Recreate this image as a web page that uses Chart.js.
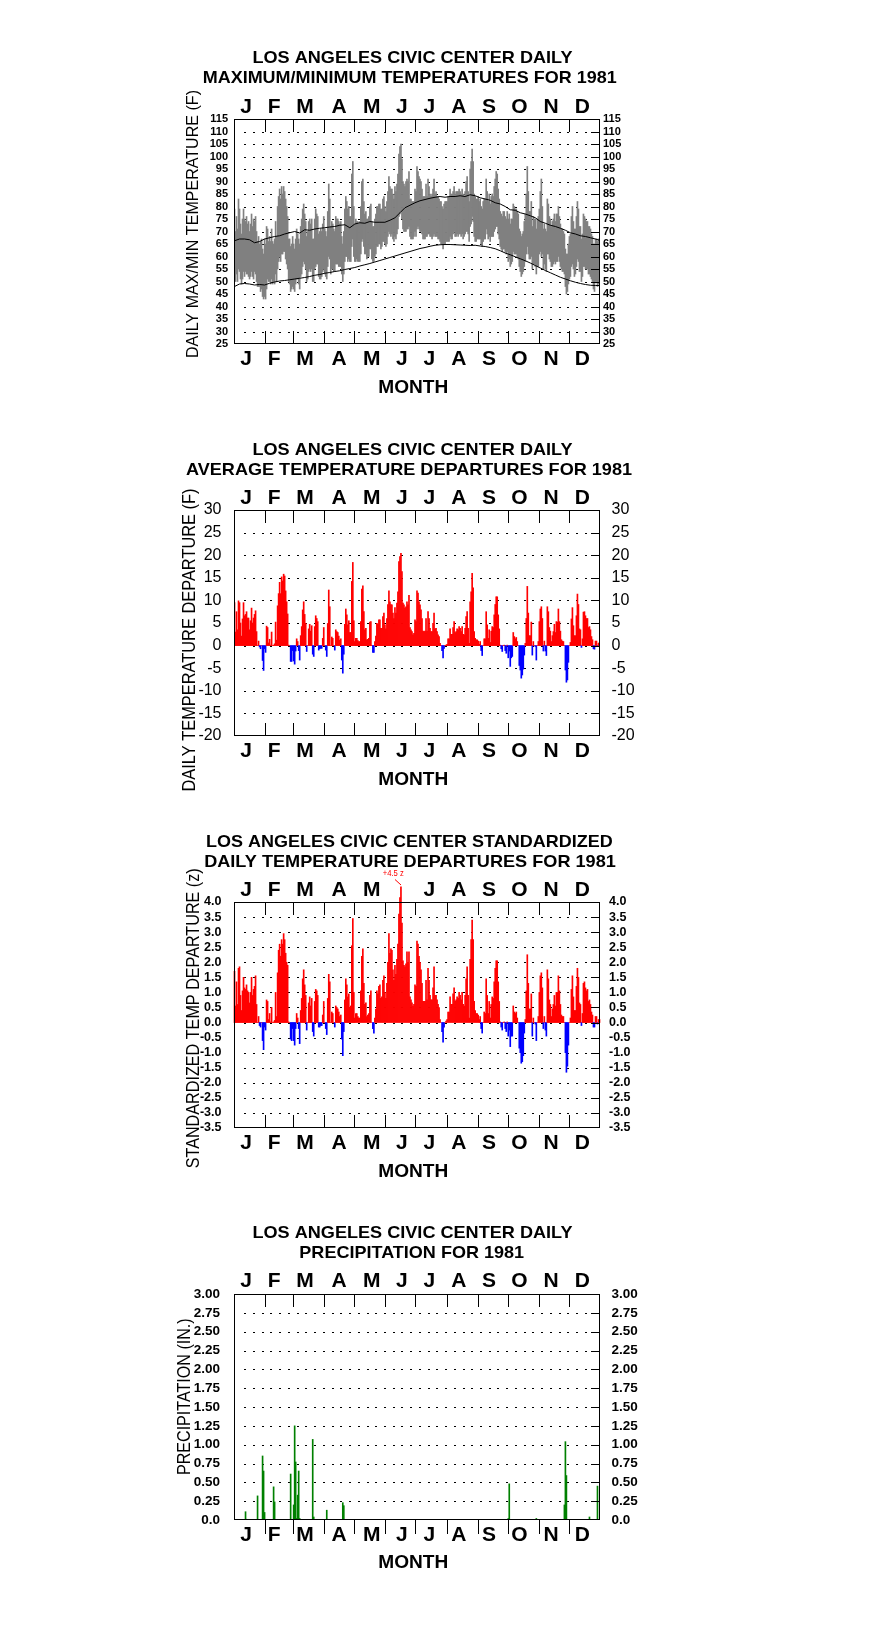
<!DOCTYPE html>
<html>
<head>
<meta charset="utf-8">
<title>Los Angeles Civic Center 1981</title>
<script src="https://cdn.jsdelivr.net/npm/chart.js@4.4.1/dist/chart.umd.min.js"></script>
<style>
  html, body { margin: 0; padding: 0; background: #fff; }
  body { position: relative; width: 876px; height: 1634px; overflow: hidden; }
  canvas { position: absolute; left: 0; }
</style>
</head>
<body>
<canvas id="maxmin" width="876" height="400" style="top:0px"></canvas>
<canvas id="depart" width="876" height="400" style="top:400px"></canvas>
<canvas id="zscore" width="876" height="390" style="top:800px"></canvas>
<canvas id="precip" width="876" height="444" style="top:1190px"></canvas>
<script>
// data (one value per day, Jan 1 .. Dec 31)
const months = ['J', 'F', 'M', 'A', 'M', 'J', 'J', 'A', 'S', 'O', 'N', 'D'];
const monthStarts = [1, 32, 60, 91, 121, 152, 182, 213, 244, 274, 305, 335];

const tmax = [
  79,70,76,71,83,79,73,69,75,79,75,74,76,73,74,70,73,77,72,75,74,76,70,66,68,65,66,67,63,61,67,
  65,72,71,66,68,66,71,66,65,67,74,68,80,84,87,83,88,85,88,86,83,80,76,67,67,64,65,68,
  65,63,67,71,69,67,65,72,75,79,81,77,74,68,70,74,75,73,75,67,67,75,79,77,76,69,70,71,70,73,76,
  71,70,68,78,89,83,72,74,73,71,70,76,75,75,74,73,74,68,65,70,79,84,82,79,80,76,76,93,98,80,
  73,75,74,74,73,74,80,90,91,82,77,78,75,75,76,80,81,74,72,72,75,77,80,80,81,81,79,79,83,84,80,
  78,82,86,92,88,87,87,85,83,88,86,89,93,101,104,105,99,90,89,88,90,91,90,94,83,83,82,82,82,87,
  86,96,94,92,91,90,87,84,84,84,89,84,91,88,85,84,85,87,91,85,86,84,84,83,82,82,80,79,81,82,82,
  82,84,84,87,85,85,86,88,85,86,86,86,87,86,85,87,85,84,86,90,92,86,82,95,98,103,98,85,84,83,83,
  84,82,83,80,79,82,83,83,91,86,82,85,81,84,85,84,88,91,94,93,87,83,78,77,76,78,78,76,75,78,
  75,77,73,75,75,81,80,79,79,78,77,71,70,68,69,70,74,77,85,96,86,78,78,82,72,76,75,75,71,75,76,
  79,86,91,80,71,73,71,70,83,81,76,75,72,74,75,77,74,77,77,80,76,73,71,71,70,69,63,61,61,65,
  68,69,76,80,74,71,71,76,82,79,72,72,67,69,77,76,75,74,74,72,72,71,69,68,65,65,67,67,66,67,67
];
const tmin = [
  54,50,53,50,55,54,51,49,51,54,52,54,53,53,52,51,52,54,52,51,54,53,50,48,48,48,46,47,44,43,44,
  43,47,51,50,50,49,51,49,50,49,53,50,55,58,60,58,61,61,62,62,59,57,55,50,49,46,47,48,
  47,46,49,51,51,49,47,52,53,56,58,57,55,50,51,54,55,54,55,50,50,55,56,57,57,52,51,51,52,54,55,
  53,52,51,56,60,59,53,55,55,54,54,57,57,57,56,56,56,53,50,53,58,60,60,58,59,58,58,64,67,60,
  58,58,59,58,58,58,61,66,67,64,61,61,59,60,60,63,63,59,58,58,60,61,64,64,65,65,63,64,66,66,65,
  64,65,68,70,69,68,69,67,66,68,67,69,71,76,77,78,75,71,70,70,70,71,71,72,68,67,67,67,68,70,
  68,71,72,71,70,70,69,67,67,67,68,68,69,69,68,68,67,68,69,68,68,68,67,67,66,65,65,63,65,65,66,
  66,66,66,68,67,67,69,70,68,68,69,68,69,69,68,69,67,68,69,70,70,69,66,72,73,76,74,68,66,66,67,
  67,67,67,65,64,66,67,67,71,69,67,68,66,68,68,68,70,71,72,72,69,67,64,63,62,63,63,62,61,62,
  58,59,56,57,58,62,61,61,61,60,59,56,54,52,53,54,56,58,61,64,61,59,59,60,55,57,57,56,53,56,56,
  61,62,60,61,55,57,55,54,61,61,59,58,56,56,57,58,57,58,58,60,58,56,55,54,54,53,48,45,46,49,
  51,52,56,57,55,52,53,56,59,58,54,54,50,52,56,56,55,55,55,53,53,52,51,50,47,46,50,50,48,49,49
];

// normal max / min lines, read every 5 days
const normDays = [1,6,11,16,21,26,31,36,41,46,51,56,61,66,71,76,81,86,91,96,101,106,111,116,121,126,131,136,
  141,146,151,156,161,166,171,176,181,186,191,196,201,206,211,216,221,226,231,236,241,246,251,256,261,266,
  271,276,281,286,291,296,301,306,311,316,321,326,331,336,341,346,351,356,361,365];
const normMax = [66.3,67,67,66.7,65.5,66,67,67.5,68,68.3, 69,69.5,70,69.4,70.7,70.5,71,71.3,71.5,71.8,
  72,72.5,72.7,71.5,73,73.5,73.3,74,73.7,73.7, 73.7,74.5,75.5,77.5,79.5,80.5,81.5,82.3,82.8,83.3,
  83.7,84,83.7,84,84,84.3,84,84.7,84.3,83.5, 83,82.5,81.5,81,80,78.7,78.5,77.5,77,76.3,
  75.5,74,73.3,72.5,72,71.3,70.5,69.5,69,68.3, 68,67.5,67,66.5];
const normMin = [48,49,49.2,49,48.6,48.8,48.6,49.3,49.8,50.2, 50.4,50.7,51,51.3,51.6,52,52.5,52.8,53.3,53.6,
  54,54.3,54.8,55.2,55.6,56.2,56.7,57.2,57.8,58.4, 59,59.6,60.2,60.8,61.4,62,62.6,63.2,63.6,64.1,
  64.5,64.7,64.8,64.8,64.7,64.6,64.5,64.4,64.5,64.2, 64,63.6,63.1,62.3,61.4,60.7,59.9,59.1,58.3,57.4,
  56.4,55.4,54.4,53.5,52.6,51.7,51,50.3,49.7,49.2, 48.8,48.5,48.4,48.4];

// daily average temperature departure (F)
const departure = [
  9.5,3,7.5,3.5,9.9,9.5,5,2.1,5.9,9.5,6.6,6.9,7.5,6.1,6.1,3.5,5.5,8.3,5,6.1,6.9,7.7,3.1,0,1,-0.3,-0.7,0,-3.3,-5.5,-0.7,
  -1.5,4.3,4,0.6,1.4,0.1,3,0,0.1,0.4,5.2,1.2,8.8,11.5,14,11.5,15.2,14.3,15.8,15.4,12.1,9.7,7,0.1,0,-3.5,-3.5,-1.1,
  -3.4,-4.1,-1.2,1.5,0.9,-1.1,-3.2,2.2,4.2,7.9,9.7,6.9,4.9,-1.3,0,3.7,4.7,3.2,4.4,-1.9,-2.4,4.2,6.6,6,5.3,-1,-0.7,-0.6,-0.6,1.6,4,
  0,-1,-2.4,4.9,12.3,8.6,0,1.9,1.6,0,-1,3.5,3.1,2.9,2.1,1.2,1.5,-3.2,-6.1,-1.9,4.7,8.1,6.8,4.6,5.5,2.9,2.9,14.2,18.4,5.5,
  0.9,1.6,1.6,1.1,0.9,0.9,5.3,12.5,13.2,7.5,3.5,3.8,1.3,1.4,1.6,5.2,5.3,0,-1.5,-1.5,0.9,2.1,4.9,4.7,5.7,5.7,3.8,3.8,6.4,7.2,4.6,
  3.7,6,9.1,12.1,9.7,9.1,9,7.2,6,8.4,7.2,9.4,11.9,18.6,19.7,20.4,16.4,9.4,9,8.3,8.6,9.7,9,11.1,4,3.5,3.1,2.4,2.7,5.7,
  5.3,12.1,11.6,9.7,9,7.9,6,3.2,3.1,3.2,6,3.2,7.5,6,3.8,3.1,3.1,4.9,7.2,3.7,3.8,3.1,2.4,2,0.5,0,-1.1,-2.7,-0.6,0,0.1,
  0.3,1.5,1.5,3.7,2.5,2.5,4,5.3,2.9,3.1,3.7,3.5,4.2,3.8,3.1,4.2,2.5,2.4,3.8,6.4,7.5,3.8,0.5,9.7,11.9,16,12.8,3.1,1.6,1.3,1.3,
  1,0.3,0.9,-1.1,-2.2,0,1.5,1.5,7.5,4.6,1.6,3.5,0.7,3.2,4.2,4,6.8,9.1,10.8,10.8,6.8,3.7,0.1,-0.7,-1.3,0,0.1,-1.1,-1.7,0.1,
  -2.7,-1.2,-4.6,-2.7,-2.4,2.9,2,1.5,1.8,0.9,0,-4.4,-5.4,-7.2,-6.5,-5.2,-2.1,0.5,6,13.1,7.2,2.2,2.2,5.2,-2.1,0.9,0,-0.2,-3.2,0,0.9,
  5.3,8.1,8.6,6,-1.2,1,-1.2,-2.2,8.6,7.5,4,3.2,0.9,2.2,3.1,4.7,2.9,5.3,5.2,8.1,5.3,3.2,1.3,1,0.9,0,-5.4,-8.1,-7.6,-3.7,
  0,0.7,5.9,8.4,4.4,2.2,2.2,6.6,11.4,9.1,3.7,3.5,-0.4,1.5,7.4,7.5,6.6,6,6,4,4.2,3.5,2,1.3,-0.7,-0.8,1,1,-0.2,0.5,0.7
];

// standardized departure (z)
const zscore = [
  1.7,0.55,1.35,0.6,1.8,1.85,0.9,0.4,1.05,1.5,1.15,1.1,1.25,1.05,1.0,0.65,1.0,1.5,0.9,1.1,1.2,1.55,0.6,0,0.2,-0.1,-0.15,0,-0.6,-0.9,-0.15,
  -0.25,0.75,0.7,0.1,0.3,0.02,0.5,0,0.02,0.07,1.0,0.2,1.65,2.4,2.6,2.2,2.75,2.6,2.95,2.75,2.3,2.0,1.9,0.02,0,-0.55,-0.6,-0.2,
  -0.6,-0.75,-0.2,0.3,0.15,-0.2,-0.7,0.4,0.8,1.45,1.75,1.25,0.9,-0.25,0,0.65,0.85,0.55,0.8,-0.3,-0.45,0.7,1.1,1.05,0.9,-0.15,-0.15,-0.1,-0.1,0.25,0.7,
  0,-0.2,-0.4,0.8,1.6,1.35,0,0.35,0.3,0,-0.15,0.55,0.5,0.45,0.35,0.2,0.25,-0.55,-1.1,-0.3,0.75,1.45,1.25,0.85,0.95,0.5,0.55,2.55,3.45,1.0,
  0.15,0.3,0.3,0.2,0.15,0.15,1.05,2.2,2.45,1.3,0.6,0.65,0.2,0.25,0.3,0.9,1.05,0,-0.2,-0.35,0.15,0.45,1.05,0.95,1.2,1.25,0.8,0.85,1.4,1.55,1.0,
  0.8,1.3,2.0,2.95,2.3,2.45,2.4,1.75,1.4,1.9,1.6,2.1,2.6,3.6,4.15,4.5,3.3,2.05,1.9,1.85,1.95,2.35,2.0,2.35,0.85,0.75,0.65,0.55,0.6,1.25,
  1.2,2.7,2.6,2.2,2.0,1.75,1.3,0.7,0.7,0.7,1.4,0.75,1.8,1.4,0.9,0.75,0.75,1.15,1.85,0.9,0.9,0.75,0.6,0.5,0.1,0,-0.3,-0.65,-0.15,0,0.05,
  0.1,0.35,0.35,0.85,0.6,0.6,0.95,1.15,0.7,0.75,0.85,0.8,1.0,0.9,0.75,1.0,0.6,0.55,0.9,1.45,1.85,0.9,0.15,2.1,2.75,3.4,2.75,0.7,0.4,0.3,0.3,
  0.25,0.1,0.2,-0.2,-0.35,0,0.35,0.3,1.45,0.9,0.3,0.7,0.15,0.6,0.85,0.8,1.35,1.8,2.05,2.05,1.35,0.7,0.02,-0.15,-0.25,0,0.02,-0.2,-0.3,0.02,
  -0.45,-0.25,-0.8,-0.45,-0.45,0.55,0.35,0.3,0.35,0.15,0,-0.85,-1.0,-1.35,-1.3,-1.1,-0.35,0.1,1.05,2.25,1.3,0.45,0.45,0.95,-0.45,0.15,0,-0.05,-0.6,0,0.2,
  1.0,1.55,1.65,1.15,-0.2,0.2,-0.25,-0.45,1.75,1.45,0.75,0.6,0.2,0.45,0.6,0.9,0.55,1.0,1.0,1.55,1.05,0.6,0.25,0.2,0.2,0,-1.0,-1.65,-1.45,-0.75,
  0,0.15,1.1,1.55,0.85,0.4,0.4,1.2,1.8,1.5,0.65,0.6,-0.1,0.3,1.3,1.35,1.15,1.05,1.1,0.7,0.75,0.6,0.35,0.25,-0.15,-0.15,0.2,0.2,-0.05,0.1,0.1
];

// days with measurable rain, and the amounts (in.)
const precipDays = [12,13,24,29,30,31,40,41,57,60,61,62,63,64,65,66,79,80,93,109,110,274,275,302,330,331,332,355,363];
const precipVals = [0.11,0.01,0.32,0.85,0.65,0.1,0.44,0.24,0.61,0.2,1.25,0.77,0.02,0.33,0.65,0.02,1.07,0.04,0.13,0.23,0.19,0.02,0.48,0.02,0.2,1.04,0.59,0.04,0.45];

const days = tmax.map((v, i) => i + 1);

const FONT = '"Liberation Sans", Arial, Helvetica, sans-serif';
const RED = '#ff0000', BLUE = '#0000ff', GRAY = '#808080', GREEN = '#008000';
// small horizontal nudges so the month letters sit where the original put them
const LETTER_NUDGE = [-1.5, -3, -1.7, 1.7, 3.8, 3.3, 0.3, -1.3, -1.6, -1.9, -0.8, -0.2];

// layout of each panel (canvas coordinates)
const layoutFor = {
  maxmin: {
    H: 400, top: 119, bottom: 344, min: 25, max: 115, step: 5,
    titles: [['LOS ANGELES CIVIC CENTER DAILY', 412.5, 63.3, 320], ['MAXIMUM/MINIMUM TEMPERATURES FOR 1981', 409.7, 82.7, 414]],
    yTitle: ['DAILY MAX/MIN TEMPERATURE (F)', 198, 224, 268, 17],
    monthTop: 112.7, monthBottom: 365, monthLabel: 392.7
  },
  depart: {
    H: 400, top: 110, bottom: 336, min: -20, max: 30, step: 5,
    titles: [['LOS ANGELES CIVIC CENTER DAILY', 412.5, 55, 320], ['AVERAGE TEMPERATURE DEPARTURES FOR 1981', 409, 75, 446]],
    yTitle: ['DAILY TEMPERATURE DEPARTURE (F)', 195, 240, 303, 18],
    monthTop: 104, monthBottom: 357.3, monthLabel: 385
  },
  zscore: {
    H: 390, top: 102, bottom: 328, min: -3.5, max: 4, step: 0.5,
    titles: [['LOS ANGELES CIVIC CENTER STANDARDIZED', 409.3, 47.3, 406.7], ['DAILY TEMPERATURE DEPARTURES FOR 1981', 410, 67.3, 411.7]],
    yTitle: ['STANDARDIZED TEMP DEPARTURE (z)', 198.5, 218.3, 300, 18],
    monthTop: 96, monthBottom: 349.3, monthLabel: 376.7, skipTop: 5
  },
  precip: {
    H: 444, top: 104, bottom: 330, min: 0, max: 3, step: 0.25,
    titles: [['LOS ANGELES CIVIC CENTER DAILY', 412.5, 48.3, 320], ['PRECIPITATION FOR 1981', 411.7, 67.7, 224.7]],
    yTitle: ['PRECIPITATION (IN.)', 190, 206.7, 156.7, 18],
    monthTop: 97.3, monthBottom: 350.7, monthLabel: 377.7, ticksBelow: true
  }
};

function fitText(ctx, text, cx, base, width, font, rotate) {
  ctx.save();
  ctx.font = font;
  const w = ctx.measureText(text).width;
  ctx.translate(cx, base);
  if (rotate) ctx.rotate(-Math.PI / 2);
  ctx.scale(width / w, 1);
  ctx.textAlign = 'center';
  ctx.textBaseline = 'alphabetic';
  ctx.fillText(text, 0, 0);
  ctx.restore();
}

const decor = {
  id: 'decor',
  beforeDatasetsDraw(chart) {
    const o = layoutFor[chart.canvas.id];
    const {ctx, chartArea: a} = chart;
    const y = chart.scales.y;
    const n = Math.round((o.max - o.min) / o.step);
    ctx.save();
    ctx.fillStyle = '#000';
    for (let i = 1; i < n; i++) {
      const py = Math.round(y.getPixelForValue(o.min + i * o.step));
      for (let px = a.left + 10.3; px < a.right - 7; px += 8.73) {
        ctx.fillRect(Math.round(px), py, 2, 1);
      }
    }
    ctx.restore();
  },
  afterDatasetsDraw(chart) {
    const o = layoutFor[chart.canvas.id];
    const {ctx, chartArea: a} = chart;
    const x = chart.scales.x, y = chart.scales.y;
    const n = Math.round((o.max - o.min) / o.step);
    ctx.save();
    ctx.fillStyle = '#000';
    ctx.strokeStyle = '#000';
    ctx.lineWidth = 1;
    ctx.strokeRect(a.left + 0.5, a.top + 0.5, a.right - a.left - 1, a.bottom - a.top - 1);

    // short ticks inside the right edge
    for (let i = 1; i < n; i++) {
      const py = Math.round(y.getPixelForValue(o.min + i * o.step));
      ctx.fillRect(a.right - 9, py, 9, 1);
    }

    // month boundaries
    monthStarts.slice(1).forEach(d => {
      const px = Math.round(x.getPixelForValue(d - 0.5));
      ctx.fillRect(px, a.top, 1, 13);
      if (o.ticksBelow) ctx.fillRect(px, a.bottom, 1, 14);
      else ctx.fillRect(px, a.bottom - 13, 1, 13);
    });

    // month letters, top and bottom
    ctx.font = 'bold 21px ' + FONT;
    ctx.textAlign = 'center';
    ctx.textBaseline = 'alphabetic';
    months.forEach((m, i) => {
      const end = i < 11 ? monthStarts[i + 1] : 366;
      const px = x.getPixelForValue((monthStarts[i] + end) / 2 - 0.5) - 2 + LETTER_NUDGE[i];
      if (o.skipTop !== i) ctx.fillText(m, px, o.monthTop);
      ctx.fillText(m, px, o.monthBottom);
    });

    o.titles.forEach(t => fitText(ctx, t[0], t[1], t[2], t[3], 'bold 17px ' + FONT));
    fitText(ctx, 'MONTH', 413.3, o.monthLabel, 70, 'bold 19px ' + FONT);
    const yt = o.yTitle;
    fitText(ctx, yt[0], yt[1], yt[2], yt[3], yt[4] + 'px ' + FONT, true);

    if (chart.canvas.id === 'zscore') {
      ctx.fillStyle = RED;
      ctx.strokeStyle = RED;
      fitText(ctx, '+4.5 z', 393.3, 76, 21, '9px ' + FONT);
      ctx.beginPath();
      ctx.moveTo(395, 79.5);
      ctx.lineTo(401, 85);
      ctx.stroke();
    }
    ctx.restore();
  }
};

function makePanel(id, datasets, tickFont, padL, padR, fmt) {
  const o = layoutFor[id];
  const tickCfg = pad => ({
    stepSize: o.step, autoSkip: false, color: '#000', padding: pad, font: tickFont, callback: fmt
  });
  return new Chart(document.getElementById(id), {
    type: 'bar',
    data: {datasets: datasets},
    options: {
      responsive: false,
      animation: false,
      devicePixelRatio: 1,
      events: [],
      layout: {padding: {top: o.top, bottom: o.H - o.bottom, left: 0, right: 0}},
      plugins: {legend: {display: false}, tooltip: {enabled: false}},
      scales: {
        x: {type: 'linear', min: 0.5, max: 365.5, offset: false, grid: {offset: false}, display: false},
        y: {
          type: 'linear', position: 'left', min: o.min, max: o.max,
          grid: {display: false, drawTicks: false}, border: {display: false},
          ticks: tickCfg(padL),
          afterFit: s => { s.width = 234; }
        },
        y2: {
          type: 'linear', position: 'right', min: o.min, max: o.max,
          grid: {display: false, drawTicks: false}, border: {display: false},
          ticks: tickCfg(padR),
          afterFit: s => { s.width = 276; }
        }
      }
    },
    plugins: [decor]
  });
}

const barBase = {type: 'bar', barPercentage: 1, categoryPercentage: 1, borderWidth: 0, order: 1};

// 1. max / min temperatures
makePanel('maxmin', [
  {type: 'line', data: normDays.map((d, i) => ({x: d, y: normMax[i]})), borderColor: '#000', borderWidth: 1, pointRadius: 0, tension: 0, order: 0},
  {type: 'line', data: normDays.map((d, i) => ({x: d, y: normMin[i]})), borderColor: '#000', borderWidth: 1, pointRadius: 0, tension: 0, order: 0},
  Object.assign({}, barBase, {data: days.map((d, i) => ({x: d, y: [tmin[i], tmax[i]]})), backgroundColor: GRAY})
], {family: FONT, size: 11, weight: 'bold'}, 6, 3, v => String(v));

// 2. average temperature departures
makePanel('depart', [
  Object.assign({}, barBase, {
    data: days.map((d, i) => ({x: d, y: departure[i]})),
    backgroundColor: departure.map(v => v < 0 ? BLUE : RED)
  })
], {family: FONT, size: 16}, 12.5, 11.5, v => String(v));

// 3. standardized departures
makePanel('zscore', [
  Object.assign({}, barBase, {
    data: days.map((d, i) => ({x: d, y: zscore[i]})),
    backgroundColor: zscore.map(v => v < 0 ? BLUE : RED),
    clip: false
  })
], {family: FONT, size: 12.5, weight: 'bold'}, 12.5, 9, v => v.toFixed(1));

// 4. precipitation
makePanel('precip', [
  Object.assign({}, barBase, {
    data: precipDays.map((d, i) => ({x: d, y: precipVals[i]})),
    backgroundColor: GREEN
  })
], {family: FONT, size: 13.5, weight: 'bold'}, 14, 11.5, v => v === 0 ? '0.0' : v.toFixed(2));
</script>
</body>
</html>
